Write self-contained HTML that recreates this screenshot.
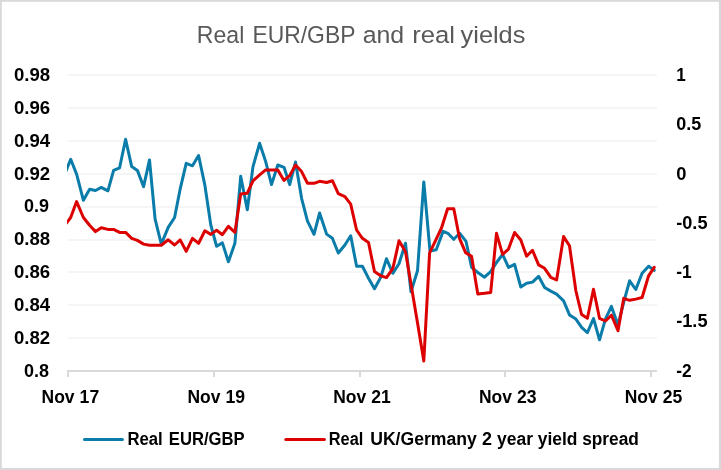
<!DOCTYPE html>
<html><head><meta charset="utf-8"><title>Real EUR/GBP and real yields</title>
<style>
html,body{margin:0;padding:0;background:#fff;}
body{width:721px;height:470px;overflow:hidden;}
svg{display:block;}
text{font-family:"Liberation Sans",sans-serif;}
.b text{font-weight:bold;font-size:18px;fill:#000;}
</style></head><body>
<svg width="721" height="470" viewBox="0 0 721 470">
<rect x="0" y="0" width="721" height="470" fill="#d9d9d9"/>
<rect x="1.8" y="1.8" width="717.1" height="466.1" fill="#fff"/>
<text y="42.5" font-size="23.7" fill="#595959"><tspan x="196.8" textLength="47.5" lengthAdjust="spacingAndGlyphs">Real</tspan> <tspan x="252.4" textLength="102.7" lengthAdjust="spacingAndGlyphs">EUR/GBP</tspan> <tspan x="362.7" textLength="41.5" lengthAdjust="spacingAndGlyphs">and</tspan> <tspan x="412.2" textLength="42.8" lengthAdjust="spacingAndGlyphs">real</tspan> <tspan x="460.6" textLength="64.8" lengthAdjust="spacingAndGlyphs">yields</tspan></text>
<g fill="#f5f5f5"><rect x="68" y="74" width="589" height="2"/><rect x="68" y="107" width="589" height="2"/><rect x="68" y="140" width="589" height="2"/><rect x="68" y="173" width="589" height="2"/><rect x="68" y="206" width="589" height="2"/><rect x="68" y="239" width="589" height="2"/><rect x="68" y="271" width="589" height="2"/><rect x="68" y="304" width="589" height="2"/><rect x="68" y="337" width="589" height="2"/></g>
<g fill="#d9d9d9"><rect x="67" y="370" width="590" height="2"/><rect x="67" y="372" width="2" height="5"/><rect x="213" y="372" width="2" height="5"/><rect x="359" y="372" width="2" height="5"/><rect x="504" y="372" width="2" height="5"/><rect x="650" y="372" width="2" height="5"/></g>
<clipPath id="c"><rect x="67" y="60" width="592" height="320"/></clipPath>
<g clip-path="url(#c)" fill="none" stroke-width="3" stroke-linejoin="round" stroke-linecap="round">
<polyline stroke="#0a7caa" points="64.6,174.4 70.7,159.3 76.6,174.1 83.4,200.3 89.6,189.3 95.5,190.5 101.3,187.4 107.9,190.8 113.6,170.4 119.6,167.8 125.6,139.3 131.7,166.6 137.4,170.4 143.6,186.6 149.5,159.9 155.1,219.1 161.3,244.1 168.2,227.4 174.6,217.5 180.2,188.8 186.2,163.3 192.5,165.8 198.6,155.5 204.9,185.4 210.8,225.0 216.6,246.3 222.4,242.9 228.4,261.8 234.9,243.3 240.7,176.3 247.3,209.8 253.0,166.6 259.6,143.3 265.7,161.6 271.5,184.6 277.8,165.0 284.0,167.3 289.7,184.6 295.5,162.0 301.6,198.3 307.5,221.2 314.0,234.3 319.6,213.0 326.6,234.1 332.4,238.3 338.3,253.0 344.9,245.0 350.7,235.8 356.6,266.3 362.4,266.3 368.5,278.2 374.5,288.8 380.7,277.4 386.5,258.8 392.9,273.3 399.0,263.7 405.5,243.3 411.0,291.8 417.5,270.8 423.8,181.9 430.0,251.0 436.2,249.8 443.2,231.3 447.9,233.3 453.7,239.3 459.8,233.3 466.0,241.3 471.6,267.3 477.8,272.5 484.5,277.2 490.7,271.6 496.5,262.5 502.6,254.5 508.5,267.4 514.6,264.4 520.8,287.0 526.6,283.2 532.5,282.1 538.6,276.3 544.6,287.5 550.8,291.1 556.6,294.1 563.6,300.8 569.5,314.9 575.9,319.1 581.6,327.4 587.4,332.6 593.5,318.5 599.5,339.8 605.5,318.8 611.4,306.4 618.0,324.9 623.7,302.4 629.6,280.8 635.8,289.5 642.1,273.3 648.6,266.3 654.2,270.3"/>
<polyline stroke="#dd0000" points="64.6,225.5 70.7,217.5 76.6,201.6 83.4,217.5 89.6,225.3 95.5,231.6 101.3,227.8 107.9,229.4 113.6,229.4 119.6,232.4 125.6,232.4 131.7,238.3 137.4,240.4 143.6,244.1 149.5,245.2 155.1,245.2 161.3,245.2 168.2,239.8 174.6,245.0 180.2,239.9 186.2,251.3 192.5,238.3 198.6,243.3 204.9,230.8 210.8,234.4 216.6,230.3 222.4,234.7 228.4,226.3 234.9,232.4 240.7,194.1 247.3,193.2 253.0,180.8 259.6,174.9 265.7,169.9 271.5,169.9 277.8,169.9 284.0,180.4 289.7,175.6 295.5,165.0 301.6,171.6 307.5,183.3 314.0,183.3 319.6,181.3 326.6,182.5 332.4,180.7 338.3,193.6 344.9,196.6 350.7,204.1 356.6,230.0 362.4,238.3 368.5,242.5 374.5,271.6 380.7,275.8 386.5,277.6 392.9,268.3 399.0,240.8 405.5,251.7 411.6,287.8 417.5,322.7 423.8,361.0 429.6,252.9 435.4,240.8 441.5,228.0 447.6,208.8 453.8,208.8 459.5,238.3 465.7,252.8 471.6,256.4 477.8,294.1 484.5,293.3 490.7,292.4 496.5,233.3 502.6,254.4 508.5,249.1 514.6,232.5 520.8,240.0 526.6,256.2 532.5,250.3 538.6,264.9 544.6,268.3 550.8,277.4 556.6,280.0 563.6,236.6 569.5,245.8 575.9,291.0 581.6,314.5 587.4,318.3 593.5,289.3 599.5,318.3 605.5,321.0 611.4,315.2 618.0,330.7 623.7,298.3 629.6,300.3 635.8,299.1 642.1,297.5 648.6,275.8 654.2,267.3"/>
</g>
<g class="b"><text x="50.2" y="81" text-anchor="end" textLength="36.2" lengthAdjust="spacingAndGlyphs">0.98</text><text x="50.2" y="114" text-anchor="end" textLength="36.2" lengthAdjust="spacingAndGlyphs">0.96</text><text x="50.2" y="147" text-anchor="end" textLength="36.2" lengthAdjust="spacingAndGlyphs">0.94</text><text x="50.2" y="180" text-anchor="end" textLength="36.2" lengthAdjust="spacingAndGlyphs">0.92</text><text x="49.1" y="212" text-anchor="end" textLength="25.0" lengthAdjust="spacingAndGlyphs">0.9</text><text x="50.2" y="245" text-anchor="end" textLength="36.2" lengthAdjust="spacingAndGlyphs">0.88</text><text x="50.2" y="278" text-anchor="end" textLength="36.2" lengthAdjust="spacingAndGlyphs">0.86</text><text x="50.2" y="311" text-anchor="end" textLength="36.2" lengthAdjust="spacingAndGlyphs">0.84</text><text x="50.2" y="344" text-anchor="end" textLength="36.2" lengthAdjust="spacingAndGlyphs">0.82</text><text x="49.1" y="377" text-anchor="end" textLength="25.0" lengthAdjust="spacingAndGlyphs">0.8</text><text x="676.2" y="81" textLength="9.5" lengthAdjust="spacingAndGlyphs">1</text><text x="676.2" y="130" textLength="25.0" lengthAdjust="spacingAndGlyphs">0.5</text><text x="676.2" y="180" textLength="10.2" lengthAdjust="spacingAndGlyphs">0</text><text x="676.2" y="229" textLength="31.3" lengthAdjust="spacingAndGlyphs">-0.5</text><text x="676.2" y="278" textLength="15.4" lengthAdjust="spacingAndGlyphs">-1</text><text x="676.2" y="327" textLength="31.3" lengthAdjust="spacingAndGlyphs">-1.5</text><text x="676.2" y="377" textLength="15.4" lengthAdjust="spacingAndGlyphs">-2</text><text y="403"><tspan x="41.6" textLength="33.0" lengthAdjust="spacingAndGlyphs">Nov</tspan> <tspan x="79.6" textLength="19.6" lengthAdjust="spacingAndGlyphs">17</tspan></text><text y="403"><tspan x="187.4" textLength="33.0" lengthAdjust="spacingAndGlyphs">Nov</tspan> <tspan x="225.4" textLength="19.6" lengthAdjust="spacingAndGlyphs">19</tspan></text><text y="403"><tspan x="333.2" textLength="33.0" lengthAdjust="spacingAndGlyphs">Nov</tspan> <tspan x="371.2" textLength="19.6" lengthAdjust="spacingAndGlyphs">21</tspan></text><text y="403"><tspan x="478.9" textLength="33.0" lengthAdjust="spacingAndGlyphs">Nov</tspan> <tspan x="516.9" textLength="19.6" lengthAdjust="spacingAndGlyphs">23</tspan></text><text y="403"><tspan x="624.7" textLength="33.0" lengthAdjust="spacingAndGlyphs">Nov</tspan> <tspan x="662.7" textLength="19.6" lengthAdjust="spacingAndGlyphs">25</tspan></text>
<text y="444.7"><tspan x="127.4" textLength="35.3" lengthAdjust="spacingAndGlyphs">Real</tspan> <tspan x="168.8" textLength="75.8" lengthAdjust="spacingAndGlyphs">EUR/GBP</tspan></text>
<text y="444.7"><tspan x="328.8" textLength="34.5" lengthAdjust="spacingAndGlyphs">Real</tspan> <tspan x="370.2" textLength="106.6" lengthAdjust="spacingAndGlyphs">UK/Germany</tspan> <tspan x="482.0" textLength="10.0" lengthAdjust="spacingAndGlyphs">2</tspan> <tspan x="497.0" textLength="36.0" lengthAdjust="spacingAndGlyphs">year</tspan> <tspan x="537.8" textLength="39.7" lengthAdjust="spacingAndGlyphs">yield</tspan> <tspan x="582.2" textLength="56.7" lengthAdjust="spacingAndGlyphs">spread</tspan></text>
</g>
<g stroke-width="3" stroke-linecap="round"><line x1="84.5" x2="122.4" y1="439.5" y2="439.5" stroke="#0a7caa"/><line x1="285.8" x2="324.4" y1="439.5" y2="439.5" stroke="#dd0000"/></g>
</svg>
</body></html>
